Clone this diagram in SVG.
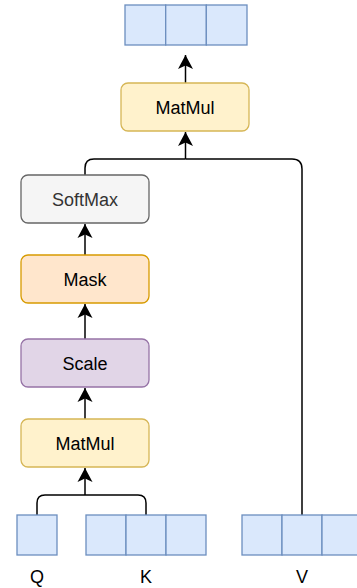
<svg xmlns="http://www.w3.org/2000/svg" width="357" height="588" viewBox="0 0 357 588">
  <style>
    .box { stroke-width: 1.3; }
    .cell { fill: #dae8fc; stroke: #6c8ebf; stroke-width: 1.3; }
    .yellow { fill: #fff2cc; stroke: #d6b656; }
    .gray { fill: #f5f5f5; stroke: #666666; }
    .orange { fill: #ffe6cc; stroke: #d79b00; }
    .purple { fill: #e1d5e7; stroke: #9673a6; }
    .label { font-family: "Liberation Sans", Arial, Helvetica, sans-serif; font-size: 18px; text-anchor: middle; fill: #000000; }
    .edge { fill: none; stroke: #000000; stroke-width: 1.5; }
  </style>
  <defs>
    <marker id="arrow" markerUnits="userSpaceOnUse" markerWidth="16" markerHeight="16" viewBox="-14 -8 16 16" refX="0" refY="0" orient="auto">
      <path d="M0,0 L-14,-7.5 L-10.5,0 L-14,7.5 Z" fill="#000000"/>
    </marker>
  </defs>

  <rect width="357" height="588" fill="#ffffff"/>

  <!-- connectors -->
  <g id="connectors">
    <!-- Q and K join into the first MatMul -->
    <path class="edge" d="M37,515 V503 Q37,495 45,495 H85"/>
    <path class="edge" d="M146,515 V503 Q146,495 138,495 H85"/>
    <path class="edge" d="M85,495 V468" marker-end="url(#arrow)"/>
    <!-- vertical chain -->
    <path class="edge" d="M85,419 V388" marker-end="url(#arrow)"/>
    <path class="edge" d="M85,339 V304" marker-end="url(#arrow)"/>
    <path class="edge" d="M85,255 V224" marker-end="url(#arrow)"/>
    <!-- SoftMax and V join into the second MatMul -->
    <path class="edge" d="M85,175 V168 Q85,159 94,159 H185.5"/>
    <path class="edge" d="M302,515 V169 Q302,159 292,159 H185.5"/>
    <path class="edge" d="M185.5,159 V132" marker-end="url(#arrow)"/>
    <!-- output -->
    <path class="edge" d="M185.5,83 V55" marker-end="url(#arrow)"/>
  </g>

  <!-- output vector -->
  <g id="output">
    <rect class="cell" x="125" y="5" width="40.7" height="40"/>
    <rect class="cell" x="165.7" y="5" width="40.7" height="40"/>
    <rect class="cell" x="206.3" y="5" width="40.7" height="40"/>
  </g>

  <g id="matmul2">
    <rect class="box yellow" x="121" y="83" width="128" height="48" rx="7"/>
    <text class="label" x="185" y="113.5">MatMul</text>
  </g>

  <g id="softmax">
    <rect class="box gray" x="21" y="175" width="128" height="48" rx="7"/>
    <text class="label" x="85" y="205.5" style="fill:#333333">SoftMax</text>
  </g>

  <g id="mask">
    <rect class="box orange" x="21" y="255" width="128" height="48" rx="7"/>
    <text class="label" x="85" y="285.5">Mask</text>
  </g>

  <g id="scale">
    <rect class="box purple" x="21" y="339" width="128" height="48" rx="7"/>
    <text class="label" x="85" y="369.5">Scale</text>
  </g>

  <g id="matmul1">
    <rect class="box yellow" x="21" y="419" width="128" height="48" rx="7"/>
    <text class="label" x="85" y="449.5">MatMul</text>
  </g>

  <g id="q">
    <rect class="cell" x="17" y="515" width="40" height="40"/>
    <text class="label" x="37" y="583">Q</text>
  </g>

  <g id="k">
    <rect class="cell" x="86" y="515" width="40" height="40"/>
    <rect class="cell" x="126" y="515" width="40" height="40"/>
    <rect class="cell" x="166" y="515" width="40" height="40"/>
    <text class="label" x="146" y="583">K</text>
  </g>

  <g id="v">
    <rect class="cell" x="242" y="515" width="40" height="40"/>
    <rect class="cell" x="282" y="515" width="40" height="40"/>
    <rect class="cell" x="322" y="515" width="40" height="40"/>
    <text class="label" x="302" y="583">V</text>
  </g>
</svg>
